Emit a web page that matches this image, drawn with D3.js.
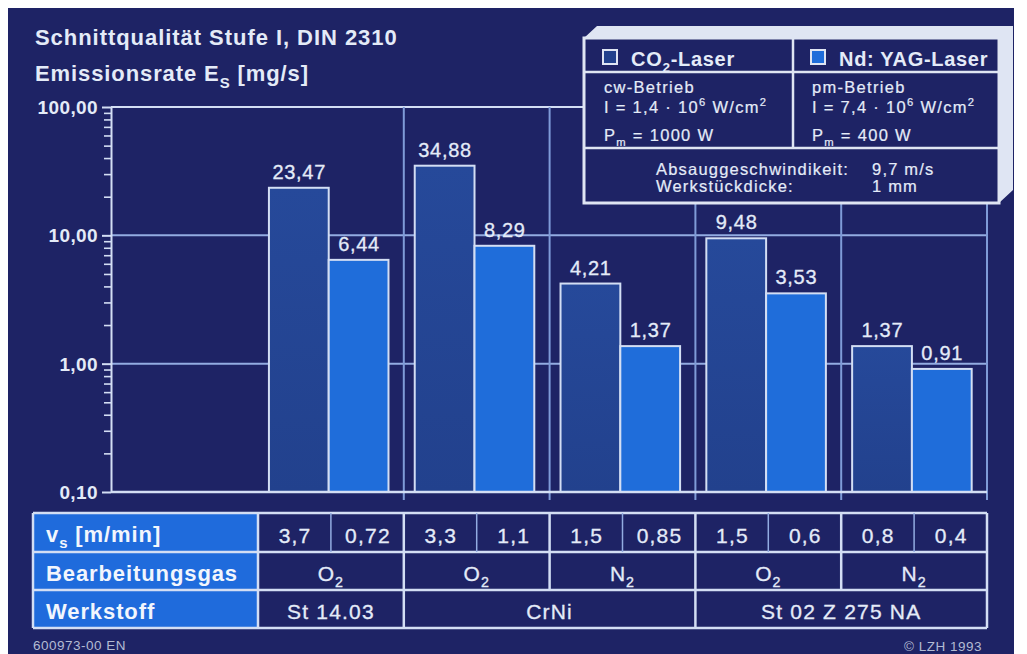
<!DOCTYPE html>
<html>
<head>
<meta charset="utf-8">
<script src="https://cdn.jsdelivr.net/npm/d3@7"></script>
<style>
  html, body { margin: 0; padding: 0; background: #ffffff; }
  svg { display: block; }
  text { font-family: "Liberation Sans", Arial, Helvetica, sans-serif; }
</style>
</head>
<body>
<svg id="chart" width="1027" height="654"></svg>
<script>
// ---------- data ----------
const groupIds   = ["g1", "g2", "g3", "g4", "g5"];
const seriesKeys = ["co2", "yag"];
const co2Values  = [23.47, 34.88, 4.21, 9.48, 1.37];
const yagValues  = [6.44, 8.29, 1.37, 3.53, 0.91];
const speedCO2   = ["3,7", "3,3", "1,5", "1,5", "0,8"];
const speedYAG   = ["0,72", "1,1", "0,85", "0,6", "0,4"];
const gases      = ["O2", "O2", "N2", "O2", "N2"];
const materials  = ["St 14.03", "CrNi", "St 02 Z 275 NA"];
const materialSpans = [1, 2, 2];
const yTickValues = [0.1, 1, 10, 100];
const yTickLabels = ["0,10", "1,00", "10,00", "100,00"];
const rowLabels  = ["v|s| [m/min]", "Bearbeitungsgas", "Werkstoff"];

// ---------- styles ----------
const C = {
  bg: "#1e2365",
  dark: "#22418d",
  darkTop: "#26499a",
  light: "#1f6dda",
  cell: "#1f6bdc",
  line: "#d3def4",
  grid: "#93ace2",
  vgrid: "#7f9bd8",
  text: "#e4ebf8",
  face: "#dfe5f3",
  foot: "#b3bbd3"
};

const svg = d3.select("#chart");
const W = 1027, H = 654;

// background panel
svg.append("rect").attr("x", 8).attr("y", 8).attr("width", 1006).attr("height", H - 8).attr("fill", C.bg);

const defs = svg.append("defs");
const g1 = defs.append("linearGradient").attr("id", "darkGrad").attr("x1", 0).attr("y1", 0).attr("x2", 0).attr("y2", 1);
g1.append("stop").attr("offset", "0%").attr("stop-color", C.darkTop);
g1.append("stop").attr("offset", "100%").attr("stop-color", C.dark);

// ---------- scales ----------
const plotLeft = 111, plotRight = 987, plotTop = 107, plotBottom = 492;
const tableLeft = 33, groupStart = 258;

const y = d3.scaleLog().domain([0.1, 100]).range([plotBottom, plotTop]);
const xGroup = d3.scaleBand().domain(groupIds).range([groupStart, plotRight]).paddingInner(0).paddingOuter(0);
const bw = xGroup.bandwidth();
const xBar = d3.scaleBand().domain(seriesKeys).range([bw * 0.075, bw * 0.895]);

const fmt = d3.formatLocale({decimal: ",", thousands: ".", grouping: [3], currency: ["", " €"]}).format(".2f");

// helper: rich text with "|sub|" and "^sup^"
function rich(sel, str, size) {
  const parts = [];
  const re = /(\|[^|]*\||\^[^^]*\^)/g;
  let last = 0, m;
  while ((m = re.exec(str)) !== null) {
    if (m.index > last) parts.push([str.slice(last, m.index), null]);
    parts.push([m[0].slice(1, -1), m[0][0] === "|" ? "sub" : "sup"]);
    last = m.index + m[0].length;
  }
  if (last < str.length) parts.push([str.slice(last), null]);
  let shift = 0;
  parts.forEach(([s, k]) => {
    const target = k === "sub" ? size * 0.3 : k === "sup" ? -size * 0.4 : 0;
    sel.append("tspan").attr("dy", target - shift).attr("font-size", k ? size * 0.68 : size).text(s);
    shift = target;
  });
  return sel;
}
function gasLabel(s) { return s.replace(/(\d+)/, "|$1|"); }

// ---------- title ----------
svg.append("text").attr("x", 35).attr("y", 45).attr("font-size", 22).attr("font-weight", "bold")
  .attr("letter-spacing", 0.95).attr("fill", C.text).text("Schnittqualität Stufe I, DIN 2310");
rich(svg.append("text").attr("x", 35).attr("y", 81).attr("font-weight", "bold").attr("letter-spacing", 0.9)
  .attr("fill", C.text).attr("font-size", 22), "Emissionsrate E|S| [mg/s]", 22);

// ---------- grid ----------
const grid = svg.append("g");
grid.selectAll("line.h").data(yTickValues.slice(1)).join("line")
  .attr("x1", plotLeft).attr("x2", plotRight)
  .attr("y1", d => y(d)).attr("y2", d => y(d))
  .attr("stroke", d => d === 100 ? C.line : C.grid).attr("stroke-width", 2);
grid.selectAll("line.v").data(groupIds.slice(1).concat(["end"])).join("line")
  .attr("x1", d => d === "end" ? plotRight : xGroup(d))
  .attr("x2", d => d === "end" ? plotRight : xGroup(d))
  .attr("y1", plotTop).attr("y2", plotBottom + 8)
  .attr("stroke", C.vgrid).attr("stroke-width", 2);

// ---------- bars ----------
const barData = groupIds.map((g, i) => ({g, vals: [{k: "co2", v: co2Values[i]}, {k: "yag", v: yagValues[i]}]}));
const gg = svg.append("g").selectAll("g").data(barData).join("g")
  .attr("transform", d => `translate(${xGroup(d.g)},0)`);
gg.selectAll("rect").data(d => d.vals).join("rect")
  .attr("x", d => xBar(d.k)).attr("width", xBar.bandwidth())
  .attr("y", d => y(d.v)).attr("height", d => plotBottom - y(d.v))
  .attr("fill", d => d.k === "co2" ? "url(#darkGrad)" : C.light)
  .attr("stroke", C.line).attr("stroke-width", 2);
gg.selectAll("text").data(d => d.vals).join("text")
  .attr("x", d => xBar(d.k) + xBar.bandwidth() / 2 + 0.4)
  .attr("y", d => y(d.v) - 9)
  .attr("text-anchor", "middle").attr("font-size", 20).attr("letter-spacing", 0.7)
  .attr("fill", C.text).attr("stroke", C.text).attr("stroke-width", 0.3)
  .text(d => fmt(d.v));

// ---------- axes ----------
const minorTicks = [];
[0.1, 1, 10].forEach(b => { for (let k = 2; k <= 9; k++) minorTicks.push(b * k); });
const axMinor = svg.append("g").attr("transform", `translate(${plotLeft},0)`)
  .call(d3.axisLeft(y).tickValues(minorTicks).tickSize(7).tickFormat(""));
axMinor.select(".domain").remove();
axMinor.selectAll(".tick line").attr("stroke", C.line).attr("stroke-width", 1.6);

const axMajor = svg.append("g").attr("transform", `translate(${plotLeft},0)`)
  .call(d3.axisLeft(y).tickValues(yTickValues).tickSize(9).tickSizeOuter(0).tickPadding(4)
    .tickFormat((d, i) => yTickLabels[i]));
axMajor.select(".domain").attr("stroke", C.line).attr("stroke-width", 2);
axMajor.selectAll(".tick line").attr("stroke", C.line).attr("stroke-width", 2);
axMajor.selectAll(".tick text").attr("fill", C.text).attr("font-size", 19).attr("font-weight", "bold")
  .attr("letter-spacing", 0.4).attr("dy", "0.34em").attr("x", -13);

// x baseline
svg.append("line").attr("x1", plotLeft).attr("x2", plotRight).attr("y1", plotBottom).attr("y2", plotBottom)
  .attr("stroke", C.line).attr("stroke-width", 2.5);

// ---------- legend box ----------
const L = {x0: 584, x1: 999, y0: 38, y1: 203, d: 13, mid: 793, r1: 72, r2: 148};
const leg = svg.append("g");
leg.append("polygon").attr("points", [[L.x0, L.y0], [L.x0 + L.d, L.y0 - L.d + 1], [L.x1 + L.d + 1, L.y0 - L.d + 1], [L.x1 + L.d + 1, L.y1 - L.d], [L.x1, L.y1], [L.x1, L.y0]].join(" "))
  .attr("fill", C.face);
leg.append("rect").attr("x", L.x0).attr("y", L.y0).attr("width", L.x1 - L.x0).attr("height", L.y1 - L.y0)
  .attr("fill", C.bg).attr("stroke", C.face).attr("stroke-width", 3);
[L.r1, L.r2].forEach(yy => leg.append("line").attr("x1", L.x0).attr("x2", L.x1).attr("y1", yy).attr("y2", yy)
  .attr("stroke", C.face).attr("stroke-width", 2.5));
leg.append("line").attr("x1", L.mid).attr("x2", L.mid).attr("y1", L.y0).attr("y2", L.r2)
  .attr("stroke", C.face).attr("stroke-width", 2.5);

const legItems = [
  {label: "CO|2|-Laser", fill: C.dark, x: 603, lines: ["cw-Betrieb", "I = 1,4 · 10^6^ W/cm^2^", "P|m| = 1000 W"]},
  {label: "Nd: YAG-Laser", fill: C.light, x: 811, lines: ["pm-Betrieb", "I = 7,4 · 10^6^ W/cm^2^", "P|m| = 400 W"]}
];
legItems.forEach(it => {
  leg.append("rect").attr("x", it.x).attr("y", 50).attr("width", 14).attr("height", 14)
    .attr("fill", it.fill).attr("stroke", C.face).attr("stroke-width", 2);
  rich(leg.append("text").attr("x", it.x + 28).attr("y", 66).attr("font-weight", "bold")
    .attr("letter-spacing", 0.7).attr("fill", C.text).attr("font-size", 20), it.label, 20);
  [93, 113, 141].forEach((yy, j) => {
    rich(leg.append("text").attr("x", it.x + 1).attr("y", yy).attr("letter-spacing", 1.3)
      .attr("fill", C.text).attr("stroke", C.text).attr("stroke-width", 0.2).attr("font-size", 16.5), it.lines[j], 16.5);
  });
});
[["Absauggeschwindikeit:", "9,7 m/s", 175], ["Werkstückdicke:", "1 mm", 192]].forEach(([a, b, yy]) => {
  leg.append("text").attr("x", 656).attr("y", yy).attr("font-size", 16.5).attr("letter-spacing", 1.2)
    .attr("fill", C.text).attr("stroke", C.text).attr("stroke-width", 0.2).text(a);
  leg.append("text").attr("x", 872).attr("y", yy).attr("font-size", 16.5).attr("letter-spacing", 1.2)
    .attr("fill", C.text).attr("stroke", C.text).attr("stroke-width", 0.2).text(b);
});

// ---------- table ----------
const rowTops = [513, 552, 590, 628];
const tbl = svg.append("g");
const rowH = i => rowTops[i + 1] - rowTops[i];
// label cells
rowLabels.forEach((lab, i) => {
  tbl.append("rect").attr("x", tableLeft).attr("y", rowTops[i]).attr("width", groupStart - tableLeft).attr("height", rowH(i))
    .attr("fill", C.cell);
  rich(tbl.append("text").attr("x", 46).attr("y", rowTops[i] + 28.5).attr("font-weight", "bold")
    .attr("letter-spacing", 0.9).attr("fill", "#f2f6fd").attr("font-size", 22), lab, 22);
});
// horizontal lines
rowTops.forEach(yy => tbl.append("line").attr("x1", tableLeft).attr("x2", plotRight).attr("y1", yy).attr("y2", yy)
  .attr("stroke", C.line).attr("stroke-width", 2.5));
// outer verticals
[tableLeft, groupStart, plotRight].forEach(xx => tbl.append("line").attr("x1", xx).attr("x2", xx)
  .attr("y1", rowTops[0]).attr("y2", rowTops[3]).attr("stroke", C.line).attr("stroke-width", 2.5));
// group verticals rows 1-2
groupIds.slice(1).forEach(g => tbl.append("line").attr("x1", xGroup(g)).attr("x2", xGroup(g))
  .attr("y1", rowTops[0]).attr("y2", rowTops[2]).attr("stroke", C.line).attr("stroke-width", 2.5));
// sub-column splits row 1
groupIds.forEach(g => tbl.append("line").attr("x1", xGroup(g) + bw / 2).attr("x2", xGroup(g) + bw / 2)
  .attr("y1", rowTops[0]).attr("y2", rowTops[1]).attr("stroke", C.grid).attr("stroke-width", 1.5));
// row 1 values
groupIds.forEach((g, i) => {
  [speedCO2[i], speedYAG[i]].forEach((s, j) => {
    tbl.append("text").attr("x", xGroup(g) + bw * (j ? 0.75 : 0.25) + 0.6).attr("y", rowTops[0] + 29.5)
      .attr("text-anchor", "middle").attr("font-size", 21).attr("letter-spacing", 1.2)
      .attr("fill", C.text).attr("stroke", C.text).attr("stroke-width", 0.3).text(s);
  });
});
// row 2 gases
groupIds.forEach((g, i) => {
  rich(tbl.append("text").attr("x", xGroup(g) + bw / 2).attr("y", rowTops[1] + 28.5).attr("text-anchor", "middle")
    .attr("letter-spacing", 1).attr("fill", C.text).attr("stroke", C.text).attr("stroke-width", 0.3)
    .attr("font-size", 21), gasLabel(gases[i]), 21);
});
// row 3 materials with spans
let gi = 0;
materials.forEach((m, k) => {
  const x0 = xGroup(groupIds[gi]);
  const x1 = xGroup(groupIds[gi + materialSpans[k] - 1]) + bw;
  if (gi > 0) tbl.append("line").attr("x1", x0).attr("x2", x0).attr("y1", rowTops[2]).attr("y2", rowTops[3])
    .attr("stroke", C.line).attr("stroke-width", 2.5);
  tbl.append("text").attr("x", (x0 + x1) / 2).attr("y", rowTops[2] + 28.5).attr("text-anchor", "middle")
    .attr("font-size", 21).attr("letter-spacing", 1.2).attr("fill", C.text)
    .attr("stroke", C.text).attr("stroke-width", 0.3).text(m);
  gi += materialSpans[k];
});

// ---------- footer ----------
svg.append("text").attr("x", 33).attr("y", 650).attr("font-size", 13.5).attr("letter-spacing", 0.5)
  .attr("fill", C.foot).text("600973-00 EN");
svg.append("text").attr("x", 982).attr("y", 651).attr("text-anchor", "end").attr("font-size", 13.5).attr("letter-spacing", 0.5)
  .attr("fill", C.foot).text("© LZH 1993");
</script>
</body>
</html>
